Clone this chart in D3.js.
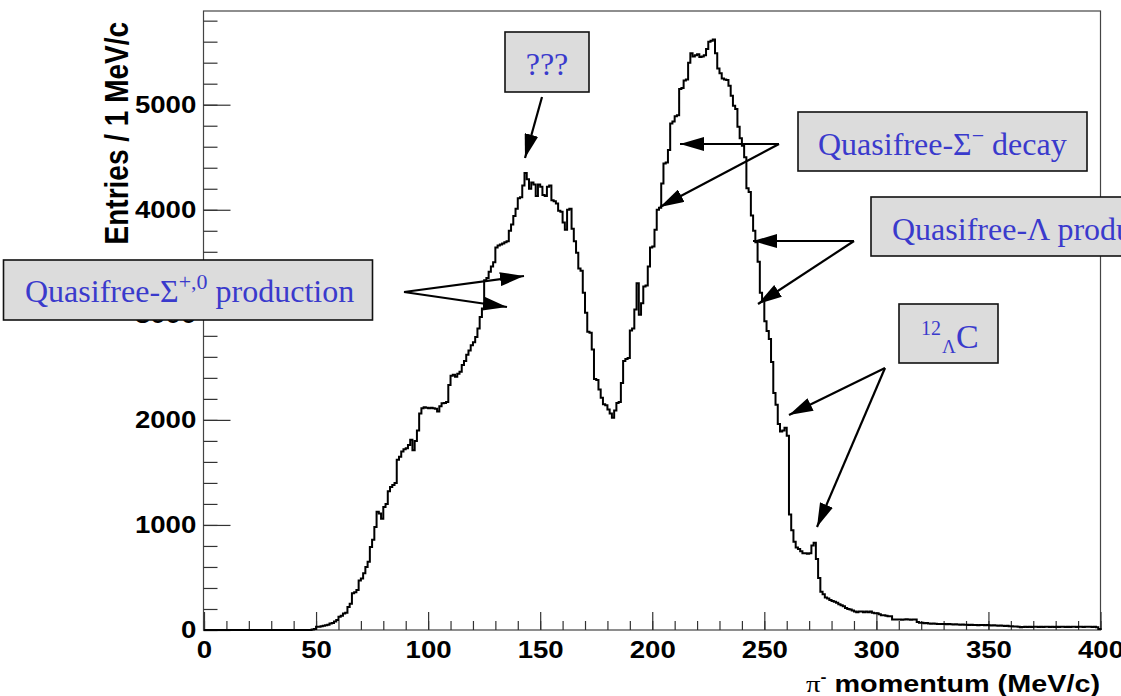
<!DOCTYPE html>
<html>
<head>
<meta charset="utf-8">
<script src="https://cdn.jsdelivr.net/npm/d3@7"></script>
<style>
  body { margin: 0; background: #fff; }
</style>
</head>
<body>
<div id="chart"></div>
<script>
// pi- momentum spectrum, 1 MeV/c bins from 0 to 400
var counts = [
  0,0,0,0,0,0,0,0,0,0,  0,0,0,0,0,0,0,0,0,0,
  0,0,0,0,0,0,0,0,0,0,  0,0,0,0,0,0,0,0,0,0,
  0,0,0,0,0,0,0,0,5,10,
  30,32,35,40,46,50,62,66,80,95,
  125,135,158,165,220,250,350,360,380,470,
  490,540,600,650,790,860,980,1125,1110,1060,
  1170,1200,1320,1360,1380,1400,1620,1650,1700,1720,
  1730,1760,1810,1710,1800,1900,2060,2110,2120,2115,
  2110,2115,2110,2105,2080,2130,2158,2160,2170,2332,
  2420,2430,2411,2440,2459,2522,2560,2620,2660,2710,
  2740,2790,2870,2980,3060,3330,3350,3410,3460,3500,
  3640,3660,3670,3680,3690,3700,3800,3860,3940,4010,
  4110,4120,4230,4350,4290,4200,4260,4240,4130,4240,
  4220,4140,4130,4220,4230,4090,4080,4060,3990,3980,
  3880,3810,4000,4010,3820,3700,3590,3440,3420,3210,
  3020,2840,2830,2670,2390,2380,2290,2210,2150,2140,
  2100,2060,2020,2090,2160,2170,2350,2560,2580,2590,
  2850,2870,3050,3300,3000,3110,3270,3280,3460,3640,
  3650,3810,4000,4020,4250,4440,4450,4570,4820,4840,
  4890,4900,5150,5160,5230,5240,5400,5490,5460,5470,
  5480,5455,5460,5470,5530,5600,5610,5620,5490,5345,
  5300,5250,5240,5235,5180,5085,4990,4960,4790,4680,
  4610,4500,4205,4170,3945,3800,3690,3505,3210,3140,
  2940,2845,2770,2550,2255,2145,1960,1890,1900,1925,
  1850,1100,950,840,785,770,750,730,730,725,
  730,805,830,675,495,365,340,310,300,285,
  275,270,260,245,235,225,210,200,195,185,
  175,170,175,175,170,175,170,175,165,160,
  160,150,140,140,135,130,130,100,100,100,
  100,98,100,102,100,98,100,100,75,70,
  68,65,66,62,60,62,60,58,57,58,
  57,55,56,54,52,55,53,50,52,50,
  50,48,50,47,48,46,48,47,45,48,
  45,44,46,42,40,42,40,38,40,36,
  35,34,33,30,26,28,30,29,30,28,
  30,32,29,30,28,30,31,29,30,28,
  30,29,31,30,28,30,29,31,30,28,
  30,31,29,30,32,30,29,31,25,10
];
var binStart = 0, binWidth = 1;

var xMajorTicks = [0, 50, 100, 150, 200, 250, 300, 350, 400];
var xMinorTicks = d3.range(0, 401, 10);
var yMajorTicks = [0, 1000, 2000, 3000, 4000, 5000];
var yMinorTicks = d3.range(0, 5801, 200);

var xTitle = "momentum (MeV/c)";
var yTitle = "Entries / 1 MeV/c";

// annotation texts
var noteQuestion = "???";
var noteSigmaMinus = ["Quasifree-Σ", "−", " decay"];
var noteLambda = "Quasifree-Λ production";
var noteSigmaPlus = ["Quasifree-Σ", "+,0", " production"];
var noteHyper = ["12", "Λ", "C"];

// layout
var W = 1121, H = 696;
var plotL = 204, plotR = 1100.5, plotT = 11, plotB = 630;
var stretch = 1.2;   // the original plot image is stretched sideways

var x = d3.scaleLinear().domain([0, 400]).range([plotL, plotR]);
var y = d3.scaleLinear().domain([0, 5892]).range([plotB, plotT]);

var svg = d3.select("#chart").append("svg")
    .attr("width", W)
    .attr("height", H)
    .attr("viewBox", "0 0 " + W + " " + H)
    .style("font-family", "'Liberation Sans', Arial, sans-serif");

svg.append("rect").attr("width", W).attr("height", H).attr("fill", "#fff");

// frame
svg.append("rect")
    .attr("x", plotL - 0.5).attr("y", plotT)
    .attr("width", plotR - plotL + 0.5).attr("height", plotB - plotT)
    .attr("fill", "none").attr("stroke", "#444").attr("stroke-width", 1.2);

// y axis: minor then major ticks, drawn inward
svg.append("g")
    .attr("transform", "translate(" + (plotL - 0.5) + ",0)")
    .call(d3.axisLeft(y).tickValues(yMinorTicks).tickSizeInner(-14).tickSizeOuter(0).tickFormat(""))
    .call(g => g.select(".domain").remove())
    .call(g => g.selectAll("line").attr("stroke", "#333").attr("stroke-width", 1.2));

svg.append("g")
    .attr("transform", "translate(" + (plotL - 0.5) + ",0)")
    .call(d3.axisLeft(y).tickValues(yMajorTicks).tickFormat(d3.format("d"))
        .tickSizeInner(-27).tickSizeOuter(0).tickPadding(6))
    .call(g => g.select(".domain").remove())
    .call(g => g.selectAll("line").attr("stroke", "#333").attr("stroke-width", 1.2))
    .call(g => g.selectAll("text")
        .attr("font-size", 23).attr("font-weight", "bold").attr("fill", "#000")
        .attr("font-family", "'Liberation Sans', Arial, sans-serif")
        .attr("transform", "scale(" + stretch + ",1)"));

// x axis
svg.append("g")
    .attr("transform", "translate(0," + plotB + ")")
    .call(d3.axisBottom(x).tickValues(xMinorTicks).tickSizeInner(-9).tickSizeOuter(0).tickFormat(""))
    .call(g => g.select(".domain").remove())
    .call(g => g.selectAll("line").attr("stroke", "#333").attr("stroke-width", 1.2));

svg.append("g")
    .attr("transform", "translate(0," + plotB + ")")
    .call(d3.axisBottom(x).tickValues(xMajorTicks).tickFormat(d3.format("d"))
        .tickSizeInner(-18).tickSizeOuter(0).tickPadding(12))
    .call(g => g.select(".domain").remove())
    .call(g => g.selectAll("line").attr("stroke", "#333").attr("stroke-width", 1.2))
    .call(g => g.selectAll("text")
        .attr("font-size", 23).attr("font-weight", "bold").attr("fill", "#000")
        .attr("font-family", "'Liberation Sans', Arial, sans-serif")
        .attr("transform", "scale(" + stretch + ",1)"));

// histogram outline
var pts = counts.map(function(c, i) { return [binStart + i * binWidth, c]; });
pts.push([binStart + counts.length * binWidth, counts[counts.length - 1]]);
pts.push([binStart + counts.length * binWidth, 0]);

var line = d3.line()
    .x(function(d) { return x(d[0]); })
    .y(function(d) { return y(d[1]); })
    .curve(d3.curveStepAfter);

svg.append("path")
    .datum(pts)
    .attr("d", line)
    .attr("fill", "none")
    .attr("stroke", "#000")
    .attr("stroke-width", 2)
    .attr("stroke-linejoin", "miter");

// axis titles
var xt = svg.append("text")
    .attr("transform", "translate(1100,692) scale(" + stretch + ",1)")
    .attr("text-anchor", "end")
    .attr("font-size", 24)
    .attr("font-weight", "bold");
xt.append("tspan").attr("font-family", "'Liberation Serif', serif").attr("font-weight", "normal").text("π");
xt.append("tspan").attr("font-size", 15).attr("dy", -10).text("-");
xt.append("tspan").attr("dy", 10).text(" " + xTitle);

svg.append("text")
    .attr("transform", "translate(128,22) scale(" + stretch + ",1) rotate(-90)")
    .attr("text-anchor", "end")
    .attr("font-size", 28)
    .attr("font-weight", "bold")
    .text(yTitle);

// annotations
var defs = svg.append("defs");
defs.append("marker")
    .attr("id", "head")
    .attr("markerUnits", "userSpaceOnUse")
    .attr("viewBox", "0 0 24 14")
    .attr("refX", 24).attr("refY", 7)
    .attr("markerWidth", 24).attr("markerHeight", 14)
    .attr("orient", "auto")
  .append("path")
    .attr("d", "M0,0 L24,7 L0,14 Z")
    .attr("fill", "#000");

function arrow(x1, y1, x2, y2) {
  svg.append("line")
      .attr("x1", x1).attr("y1", y1).attr("x2", x2).attr("y2", y2)
      .attr("stroke", "#000").attr("stroke-width", 2.2)
      .attr("marker-end", "url(#head)");
}

function box(bx, by, bw, bh) {
  svg.append("rect")
      .attr("x", bx).attr("y", by).attr("width", bw).attr("height", bh)
      .attr("fill", "#dcdcdc").attr("stroke", "#111").attr("stroke-width", 1.6);
}

function note(tx, ty) {
  return svg.append("text")
      .attr("x", tx).attr("y", ty)
      .attr("font-family", "'Liberation Serif', 'Times New Roman', serif")
      .attr("font-size", 32)
      .attr("fill", "#3a3acc");
}

// ???
box(505, 32, 84, 60);
note(547, 75).attr("text-anchor", "middle").text(noteQuestion);
arrow(542, 97, 525, 158);

// Quasifree-Sigma- decay
box(798, 112, 289, 59);
var t1 = note(818, 155);
t1.append("tspan").text(noteSigmaMinus[0]);
t1.append("tspan").attr("font-size", 22).attr("dy", -12).text(noteSigmaMinus[1]);
t1.append("tspan").attr("dy", 12).text(noteSigmaMinus[2]);
arrow(779, 144, 680, 144);
arrow(779, 144, 660, 207);

// Quasifree-Lambda production
box(871, 197, 360, 59);
note(892, 240).text(noteLambda);
arrow(854, 241, 753, 241);
arrow(854, 241, 758, 304);

// 12-Lambda-C
box(899, 304, 99, 59);
var t3 = note(921, 335);
t3.append("tspan").attr("font-size", 20).text(noteHyper[0]);
t3.append("tspan").attr("x", 942).attr("y", 353).attr("font-size", 19).text(noteHyper[1]);
t3.append("tspan").attr("x", 956).attr("y", 348).attr("font-size", 34).text(noteHyper[2]);
arrow(885, 368, 789, 415);
arrow(885, 368, 817, 527);

// Quasifree-Sigma+,0 production
box(3.5, 260, 369, 60);
var t4 = note(25, 302);
t4.append("tspan").text(noteSigmaPlus[0]);
t4.append("tspan").attr("font-size", 22).attr("dy", -13).text(noteSigmaPlus[1]);
t4.append("tspan").attr("dy", 13).text(noteSigmaPlus[2]);
arrow(404, 292, 524, 276);
arrow(404, 292, 507, 307);
</script>
</body>
</html>
